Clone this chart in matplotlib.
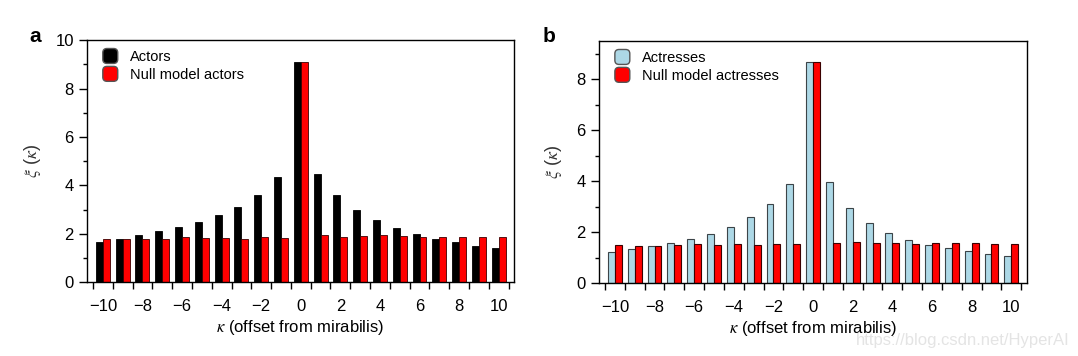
import numpy as np
import matplotlib
matplotlib.use("Agg")
import matplotlib.pyplot as plt
from matplotlib.legend_handler import HandlerPatch
from matplotlib.patches import FancyBboxPatch, Patch
from matplotlib.ticker import MultipleLocator, FixedLocator

plt.rcParams['font.family'] = ['Liberation Sans', 'DejaVu Sans']
plt.rcParams['mathtext.fontset'] = 'stix'

kappa = list(range(-10, 11))
actors = [1.68, 1.79, 1.94, 2.13, 2.29, 2.51, 2.78, 3.11, 3.61, 4.33, 9.08,
          4.48, 3.61, 2.98, 2.58, 2.25, 2.02, 1.80, 1.67, 1.52, 1.42]
null_actors = [1.79, 1.79, 1.80, 1.80, 1.86, 1.85, 1.85, 1.79, 1.86, 1.85, 9.08,
               1.96, 1.89, 1.93, 1.94, 1.90, 1.89, 1.89, 1.89, 1.89, 1.89]
actresses = [1.21, 1.32, 1.44, 1.57, 1.72, 1.93, 2.18, 2.58, 3.12, 3.90, 8.66,
             3.98, 2.95, 2.34, 1.97, 1.67, 1.49, 1.36, 1.25, 1.12, 1.06]
null_actresses = [1.49, 1.46, 1.44, 1.50, 1.53, 1.49, 1.54, 1.50, 1.53, 1.53, 8.66,
                  1.57, 1.59, 1.57, 1.57, 1.54, 1.57, 1.57, 1.57, 1.54, 1.54]
xticklabels = [-10, -8, -6, -4, -2, 0, 2, 4, 6, 8, 10]


class RoundHandler(HandlerPatch):
    def create_artists(self, legend, orig_handle, xdescent, ydescent,
                       width, height, fontsize, trans):
        s = min(width, height)
        p = FancyBboxPatch((-xdescent, -ydescent + (height - s) / 2), s, s,
                           boxstyle=f"round,pad=0,rounding_size={s*0.28}",
                           facecolor=orig_handle.get_facecolor(),
                           edgecolor='#555555', lw=1.0, transform=trans)
        return [p]


fig = plt.figure(figsize=(10.78, 3.56), dpi=100)
ax_a = fig.add_axes([0.0807, 0.2065, 0.3961, 0.6811])
ax_b = fig.add_axes([0.5557, 0.2051, 0.3966, 0.6797])

w = 0.35
x = np.array(kappa)


def style(ax, ymax):
    ax.set_xlim(-10.8, 10.77)
    ax.set_ylim(0, ymax)
    ax.set_xticks(xticklabels)
    ax.set_xticklabels([f"{v}".replace('-', '\u2212') for v in xticklabels])
    ax.xaxis.set_minor_locator(FixedLocator(np.arange(-10.5, 10.6, 1.0)))
    ax.tick_params(axis='x', which='major', length=0, pad=12, labelsize=12)
    ax.tick_params(axis='x', which='minor', length=5, width=1.0, direction='out')
    ax.yaxis.set_major_locator(MultipleLocator(2))
    ax.yaxis.set_minor_locator(MultipleLocator(1))
    ax.tick_params(axis='y', which='major', length=5.5, width=1.0, pad=4, labelsize=12)
    ax.tick_params(axis='y', which='minor', length=3, width=1.0)
    for sp in ax.spines.values():
        sp.set_linewidth(1.0)
    ax.set_xlabel(r'$\kappa$ (offset from mirabilis)', fontsize=12, labelpad=3)
    ax.set_ylabel(r'$\xi$ ($\kappa$)', fontsize=13, labelpad=9, color='#333333')


# Panel a
ax_a.bar(x - w / 2, actors, width=w, color='black', edgecolor='black', lw=0.6)
ax_a.bar(x + w / 2, null_actors, width=w, color='#ff0000', edgecolor='#3a0000', lw=0.6)
style(ax_a, 10)
h_a = [Patch(facecolor='black'), Patch(facecolor='#ff0000')]
ax_a.legend(h_a, ['Actors', 'Null model actors'], loc='upper left',
            bbox_to_anchor=(0.037, 0.965), frameon=False, fontsize=10.5,
            handlelength=1.2, handleheight=1.2, handletextpad=0.65,
            labelspacing=0.17, borderpad=0, borderaxespad=0,
            handler_map={Patch: RoundHandler()})

# Panel b
ax_b.bar(x - w / 2, actresses, width=w, color='#add8e6', edgecolor='#3c4448', lw=0.8)
ax_b.bar(x + w / 2, null_actresses, width=w, color='#ff0000', edgecolor='#3a0000', lw=0.8)
style(ax_b, 9.5)
h_b = [Patch(facecolor='#add8e6'), Patch(facecolor='#ff0000')]
ax_b.legend(h_b, ['Actresses', 'Null model actresses'], loc='upper left',
            bbox_to_anchor=(0.037, 0.965), frameon=False, fontsize=10.5,
            handlelength=1.2, handleheight=1.2, handletextpad=0.65,
            labelspacing=0.17, borderpad=0, borderaxespad=0,
            handler_map={Patch: RoundHandler()})

fig.text(35 / 1078, 1 - 37 / 356, 'a', fontsize=15, fontweight='bold',
         ha='center', va='center')
fig.text(549 / 1078, 1 - 37 / 356, 'b', fontsize=15, fontweight='bold',
         ha='center', va='center')
fig.text(1070 / 1078, 1 - 340 / 356, 'https://blog.csdn.net/HyperAI', fontsize=12,
         color='#e4e4e4', ha='right', va='center')

fig.savefig('out.png', dpi=100)
